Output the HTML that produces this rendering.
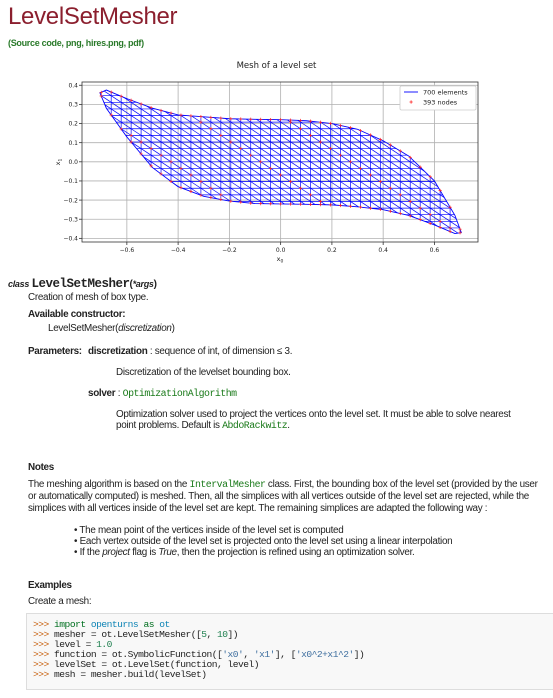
<!DOCTYPE html>
<html><head><meta charset="utf-8"><style>
body{margin:0;width:553px;height:698px;overflow:hidden;background:#fff;font-family:"Liberation Sans",sans-serif;color:#222;position:relative}
.a{position:absolute;white-space:nowrap;font-size:9.9px;letter-spacing:-0.3px}
.m{font-family:"Liberation Mono",monospace;letter-spacing:-0.5px}
.g{color:#1a7a1a}
b{font-weight:bold}
</style></head><body>
<div class="a" style="left:8px;top:3px;font-size:24px;color:#8b1f2e;letter-spacing:-0.3px">LevelSetMesher</div>
<div class="a" style="left:8px;top:38px;font-size:9px;font-weight:bold;color:#2a7a2a">(Source code, png, hires.png, pdf)</div>

<svg width="553" height="270" style="position:absolute;left:0;top:0" id="chart" font-family="DejaVu Sans, Liberation Sans, sans-serif"></svg>

<div class="a" style="left:8px;top:277px;font-size:10px"><i style="font-size:9px;font-weight:bold">class</i> <span class="m" style="font-weight:bold;font-size:12.5px">LevelSetMesher</span><b>(<i style="font-size:9px">*args</i>)</b></div>
<div class="a" style="left:28px;top:292px">Creation of mesh of box type.</div>
<div class="a" style="left:28px;top:309px"><b>Available constructor:</b></div>
<div class="a" style="left:48px;top:323px">LevelSetMesher(<i>discretization</i>)</div>
<div class="a" style="left:28px;top:346px"><b>Parameters:</b></div>
<div class="a" style="left:88px;top:346px"><b>discretization</b> : sequence of int, of dimension ≤ 3.</div>
<div class="a" style="left:116px;top:367px">Discretization of the levelset bounding box.</div>
<div class="a" style="left:88px;top:388px"><b>solver</b> : <span class="m g">OptimizationAlgorithm</span></div>
<div class="a" style="left:116px;top:409px;line-height:11px">Optimization solver used to project the vertices onto the level set. It must be able to solve nearest<br>point problems. Default is <span class="m g">AbdoRackwitz</span>.</div>

<div class="a" style="left:28px;top:462px"><b>Notes</b></div>
<div class="a" style="left:28px;top:479px;line-height:12px">The meshing algorithm is based on the <span class="m g">IntervalMesher</span> class. First, the bounding box of the level set (provided by the user<br>or automatically computed) is meshed. Then, all the simplices with all vertices outside of the level set are rejected, while the<br>simplices with all vertices inside of the level set are kept. The remaining simplices are adapted the following way :</div>
<div class="a" style="left:74px;top:525px;line-height:11px">• The mean point of the vertices inside of the level set is computed<br>• Each vertex outside of the level set is projected onto the level set using a linear interpolation<br>• If the <i>project</i> flag is <i>True</i>, then the projection is refined using an optimization solver.</div>

<div class="a" style="left:28px;top:580px"><b>Examples</b></div>
<div class="a" style="left:28px;top:596px">Create a mesh:</div>
<div style="position:absolute;left:26px;top:613px;width:540px;height:75px;background:#f8f8f8;border:1px solid #ddd"></div>
<div class="a m" style="left:33px;top:620px;font-size:9.6px;line-height:10px;letter-spacing:-0.5px"><span style="color:#c65d09">&gt;&gt;&gt;</span> <span style="color:#007020">import</span> <span style="color:#0e84b5">openturns</span> <span style="color:#007020">as</span> <span style="color:#0e84b5">ot</span><br><span style="color:#c65d09">&gt;&gt;&gt;</span> mesher = ot.LevelSetMesher([<span style="color:#208050">5</span>, <span style="color:#208050">10</span>])<br><span style="color:#c65d09">&gt;&gt;&gt;</span> level = <span style="color:#208050">1.0</span><br><span style="color:#c65d09">&gt;&gt;&gt;</span> function = ot.SymbolicFunction([<span style="color:#4070a0">'x0'</span>, <span style="color:#4070a0">'x1'</span>], [<span style="color:#4070a0">'x0^2+x1^2'</span>])<br><span style="color:#c65d09">&gt;&gt;&gt;</span> levelSet = ot.LevelSet(function, level)<br><span style="color:#c65d09">&gt;&gt;&gt;</span> mesh = mesher.build(levelSet)</div>

<script>
const boundaryX = [-0.705,-0.68,-0.6,-0.5,-0.4,-0.3,-0.2,-0.1,0,0.1,0.2,0.3,0.4,0.5,0.6,0.68,0.705];
const upperY = [0.36,0.375,0.33,0.28,0.245,0.235,0.225,0.222,0.22,0.215,0.20,0.17,0.11,0.03,-0.10,-0.28,-0.37];
const lowerY = [0.36,0.28,0.13,-0.03,-0.13,-0.18,-0.205,-0.218,-0.22,-0.222,-0.225,-0.235,-0.25,-0.28,-0.33,-0.375,-0.37];
const xTicks = [-0.6,-0.4,-0.2,0.0,0.2,0.4,0.6];
const yTicks = [0.4,0.3,0.2,0.1,0.0,-0.1,-0.2,-0.3,-0.4];
const gridNx = 36, gridNy = 22;
const gridBox = [-0.7,0.7,-0.38,0.38];
const legendLabels = ["700 elements","393 nodes"];

const svg=document.getElementById('chart');const NS='http://www.w3.org/2000/svg';
const L=82,R=478,T=82,B=242,xmin=-0.775,xmax=0.77,ymin=-0.419,ymax=0.417;
const sx=v=>L+(v-xmin)/(xmax-xmin)*(R-L), sy=v=>B-(v-ymin)/(ymax-ymin)*(B-T);
function mk(t,a,p){const e=document.createElementNS(NS,t);for(const k in a)e.setAttribute(k,a[k]);(p||svg).appendChild(e);return e;}
function interp(xs,ys,x){if(x<=xs[0])return ys[0];for(let i=1;i<xs.length;i++)if(x<=xs[i]){const t=(x-xs[i-1])/(xs[i]-xs[i-1]);return ys[i-1]+t*(ys[i]-ys[i-1]);}return ys[ys.length-1];}
let e=mk('text',{x:276.5,y:68,'text-anchor':'middle','font-size':8.5,fill:'#222'});e.textContent='Mesh of a level set';


mk('rect',{x:L,y:T,width:R-L,height:B-T,fill:'#fff'});
xTicks.forEach(v=>{const X=sx(v);const g=mk('line',{x1:X,x2:X,y1:T,y2:B,stroke:'#b0b0b0','stroke-width':0.8});


mk('line',{x1:X,x2:X,y1:B,y2:B+3,stroke:'#333','stroke-width':0.8});
const t=mk('text',{x:X,y:B+10,'text-anchor':'middle','font-size':6,fill:'#222'});t.textContent=(v<0?'\u2212':'')+Math.abs(v).toFixed(1);

});
yTicks.forEach(v=>{const Y=sy(v);const g=mk('line',{x1:L,x2:R,y1:Y,y2:Y,stroke:'#b0b0b0','stroke-width':0.8});


mk('line',{x1:L-3,x2:L,y1:Y,y2:Y,stroke:'#333','stroke-width':0.8});
const t=mk('text',{x:L-4,y:Y+2.2,'text-anchor':'end','font-size':6,fill:'#222'});t.textContent=(v<0?'\u2212':'')+Math.abs(v).toFixed(1);

});
let pts=[];boundaryX.forEach((x,i)=>pts.push(sx(x)+','+sy(upperY[i])));
for(let i=boundaryX.length-1;i>=0;i--)pts.push(sx(boundaryX[i])+','+sy(lowerY[i]));
const defs=mk('defs',{});const cp=mk('clipPath',{id:'shape'},defs);mk('polygon',{points:pts.join(' ')},cp);
const mesh=mk('g',{'clip-path':'url(#shape)',stroke:'#0000ff','stroke-width':0.7});


const [gx0,gx1,gy0,gy1]=gridBox;const dx=(gx1-gx0)/gridNx,dy=(gy1-gy0)/gridNy;
for(let i=0;i<=gridNx;i++){const X=sx(gx0+i*dx);mk('line',{x1:X,x2:X,y1:sy(gy1),y2:sy(gy0)},mesh);}
for(let j=0;j<=gridNy;j++){const Y=sy(gy0+j*dy);mk('line',{x1:sx(gx0),x2:sx(gx1),y1:Y,y2:Y},mesh);}
for(let i=0;i<gridNx;i++)for(let j=0;j<gridNy;j++){mk('line',{x1:sx(gx0+i*dx),y1:sy(gy0+(j+1)*dy),x2:sx(gx0+(i+1)*dx),y2:sy(gy0+j*dy)},mesh);}
const outline=mk('polygon',{points:pts.join(' '),fill:'none',stroke:'#0000ff','stroke-width':0.9});


const nodes=mk('g',{stroke:'#ff2020','stroke-width':0.7});


function star(x,y){const X=sx(x),Y=sy(y);mk('path',{d:`M${X-1.6},${Y}h3.2M${X},${Y-1.6}v3.2`},nodes);}
for(let i=0;i<=gridNx;i++){const x=gx0+i*dx;const u=interp(boundaryX,upperY,x),l=interp(boundaryX,lowerY,x);
star(x,u);star(x,l);}
for(let j=0;j<=gridNy;j++){const y=gy0+j*dy;for(let i=0;i<=gridNx;i++){const x=gx0+i*dx;const u=interp(boundaryX,upperY,x),l=interp(boundaryX,lowerY,x);
if(y<u-0.01&&y>l+0.01&&(i+j)%9==0)star(x,y);}}
mk('rect',{x:L,y:T,width:R-L,height:B-T,fill:'none',stroke:'#333','stroke-width':0.8});
const lg=mk('g',{});


mk('rect',{x:400,y:86,width:76,height:24,fill:'#fff',stroke:'#ccc','stroke-width':0.8,rx:1.5},lg);
mk('line',{x1:404,x2:418,y1:92,y2:92,stroke:'#0000ff','stroke-width':0.9},lg);
mk('path',{d:'M409.5,102h3.2M411.1,100.4v3.2',stroke:'#ff2020','stroke-width':0.8},lg);
legendLabels.forEach((s,i)=>{const t=mk('text',{x:423,y:94.5+i*10,'font-size':6.5,fill:'#222'},lg);t.textContent=s;

});
let xl=mk('text',{x:280,y:261,'text-anchor':'middle','font-size':6.5,fill:'#222'});xl.innerHTML='x<tspan font-size="4.5" dy="1.5">0</tspan>';


let yl=mk('text',{x:0,y:0,'text-anchor':'middle','font-size':6.5,fill:'#222',transform:'translate(60,162) rotate(-90)'});yl.innerHTML='x<tspan font-size="4.5" dy="1.5">1</tspan>';


</script>
</body></html>
